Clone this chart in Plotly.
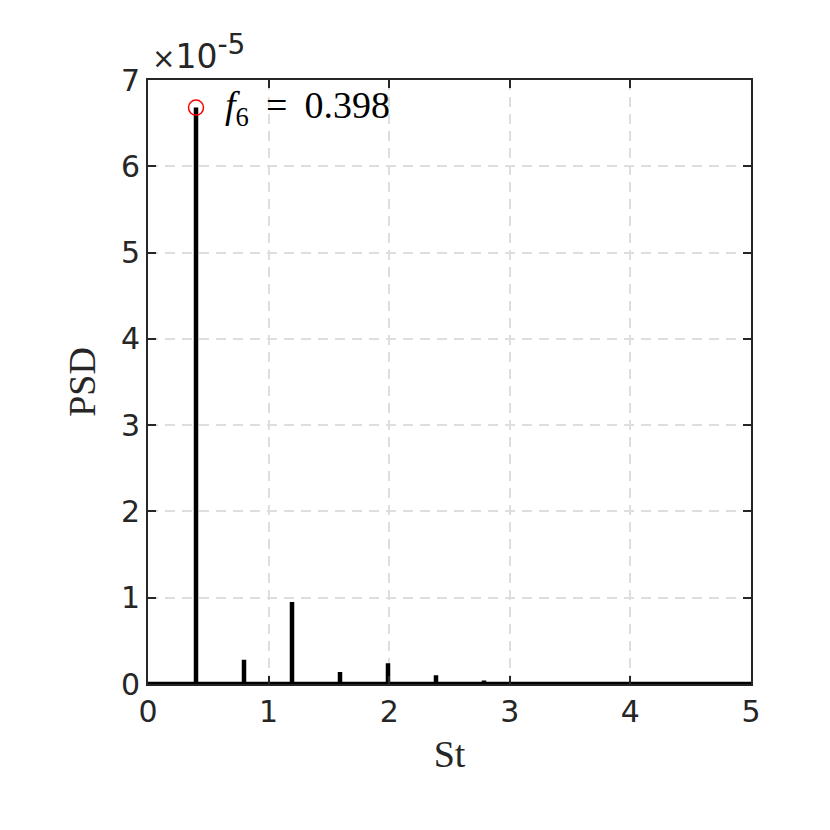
import plotly.graph_objects as go

# Data (St, PSD peaks)
st_peaks = [0.398, 0.796, 1.194, 1.592, 1.990, 2.388, 2.786]
psd_peaks = [6.68e-5, 0.28e-5, 0.95e-5, 0.14e-5, 0.24e-5, 0.10e-5, 0.04e-5]
st_range = [0, 5]
y_ticks = [0, 1, 2, 3, 4, 5, 6, 7]
x_ticks = [0, 1, 2, 3, 4, 5]
scale = 1e-5

# Build spectrum line
xs = [st_range[0]]
ys = [0.0]
for f, p in zip(st_peaks, psd_peaks):
    xs += [f, f, f]
    ys += [0.0, p / scale, 0.0]
xs.append(st_range[1])
ys.append(0.0)

fig = go.Figure()
fig.add_trace(go.Scatter(x=xs, y=ys, mode="lines",
                         line=dict(color="black", width=4.5),
                         showlegend=False, hoverinfo="skip"))
fig.add_trace(go.Scatter(x=[st_peaks[0]], y=[psd_peaks[0] / scale], mode="markers",
                         marker=dict(symbol="circle-open", color="red", size=15,
                                     line=dict(width=1.5, color="red")),
                         showlegend=False))

axis_common = dict(
    showline=True, linecolor="#262626", linewidth=2, mirror="allticks",
    ticks="inside", ticklen=8, tickwidth=1.5, tickcolor="#262626",
    showgrid=True, gridcolor="#dedede", griddash="10px,7px", gridwidth=1.5,
    zeroline=False,
    tickfont=dict(family="DejaVu Sans", size=30, color="#262626"),
)

fig.update_xaxes(range=st_range, tickvals=x_ticks, **axis_common,
                 title=dict(text="St", font=dict(family="Liberation Serif", size=38, color="#262626"),
                            standoff=12))
fig.update_yaxes(range=[0, 7], tickvals=y_ticks, **axis_common,
                 title=dict(text="PSD", font=dict(family="Liberation Serif", size=38, color="#262626"),
                            standoff=14))

fig.add_annotation(x=0.62, y=psd_peaks[0] / scale, xref="x", yref="y",
                   text="<i>f</i><sub>6</sub>&#8201; = &#8201;0.398", showarrow=False,
                   xanchor="left", yanchor="middle",
                   font=dict(family="Liberation Serif", size=38, color="black"))
fig.add_annotation(x=0, y=1, xref="paper", yref="paper",
                   text="<span style='font-size:28px'>×</span>10<sup><span style='font-size:28px'>-5</span></sup>",
                   showarrow=False, xanchor="left", yanchor="bottom", yshift=2, xshift=2,
                   font=dict(family="DejaVu Sans", size=33, color="#262626"))

fig.update_layout(width=830, height=830,
                  margin=dict(l=140, r=87, t=72, b=154),
                  plot_bgcolor="white", paper_bgcolor="white")

fig.write_html("out.html")
